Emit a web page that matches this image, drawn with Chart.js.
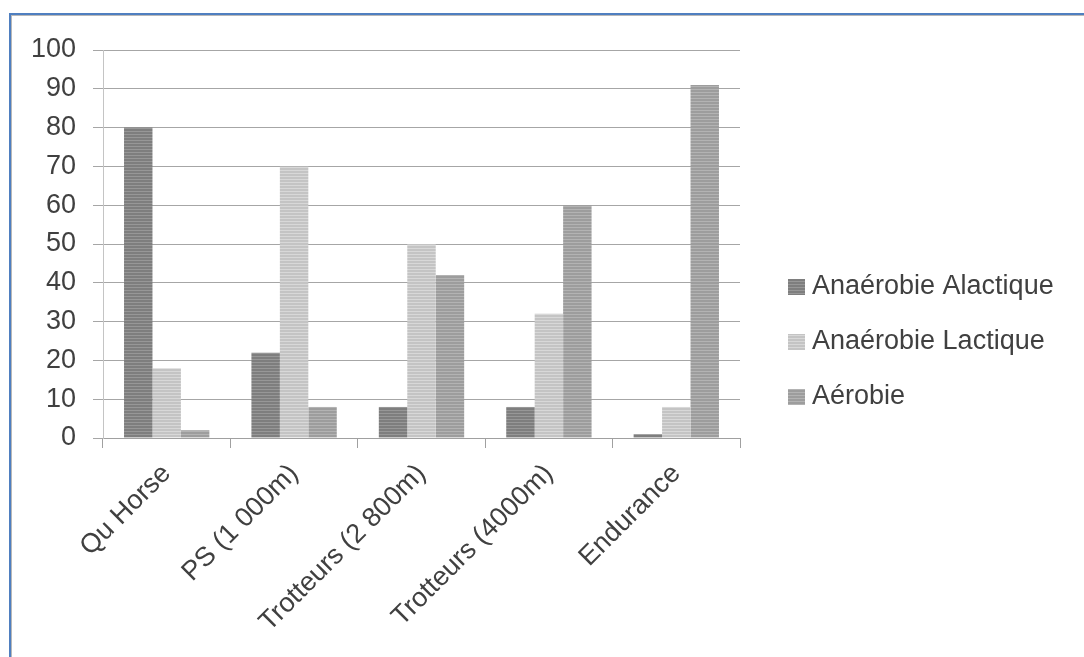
<!DOCTYPE html>
<html>
<head>
<meta charset="utf-8">
<script src="https://cdn.jsdelivr.net/npm/chart.js@4"></script>
<style>
  html, body { margin: 0; padding: 0; background: #fff; overflow: hidden; }
  #wrap { position: absolute; left: 0; top: 0; width: 1084px; height: 657px; }
  .frame {
    position: absolute; left: 9px; top: 13px; width: 1200px; height: 800px;
    border-top: 2px solid #4f7fc0; border-left: 2px solid #4f7fc0;
    box-shadow: inset 1px 1px 0 #b8b8b8; pointer-events: none;
  }
</style>
</head>
<body>
<div id="wrap"><canvas id="energyChart" width="1084" height="657"></canvas></div>
<div class="frame"></div>
<script>
const categories = ['Qu Horse', 'PS (1 000m)', 'Trotteurs (2 800m)', 'Trotteurs (4000m)', 'Endurance'];
const seriesNames = ['Anaérobie Alactique', 'Anaérobie Lactique', 'Aérobie'];
const alactique = [80, 22, 8, 8, 1];
const lactique = [18, 70, 50, 32, 8];
const aerobie = [2, 8, 42, 60, 91];
const yTicks = [0, 10, 20, 30, 40, 50, 60, 70, 80, 90, 100];

const FONT = '"Liberation Sans", Arial, sans-serif';
const TEXT = '#404040';

// striped fills, like the old office gradient bars
function stripes(base, line) {
  const c = document.createElement('canvas');
  c.width = 1; c.height = 3;
  const g = c.getContext('2d');
  g.fillStyle = base; g.fillRect(0, 0, 1, 3);
  g.fillStyle = line; g.fillRect(0, 2, 1, 1);
  return g.createPattern(c, 'repeat');
}
const fills = [
  stripes('#7e7e7e', '#979797'),
  stripes('#c4c4c4', '#d8d8d8'),
  stripes('#9d9d9d', '#b3b3b3')
];

// legend on the right, vertically centred on the whole plot block
const sideLegend = {
  id: 'sideLegend',
  afterDraw(chart) {
    const ctx = chart.ctx;
    ctx.save();
    ctx.font = '27px ' + FONT;
    ctx.textBaseline = 'middle';
    ctx.textAlign = 'left';
    chart.data.datasets.forEach((ds, i) => {
      const cy = 287 + i * 55;
      ctx.fillStyle = ds.backgroundColor;
      ctx.fillRect(788, cy - 8, 17, 16);
      ctx.fillStyle = TEXT;
      ctx.fillText(ds.label, 812, cy);
    });
    ctx.restore();
  }
};

new Chart(document.getElementById('energyChart'), {
  type: 'bar',
  data: {
    labels: categories,
    datasets: [
      { label: seriesNames[0], data: alactique, backgroundColor: fills[0] },
      { label: seriesNames[1], data: lactique, backgroundColor: fills[1] },
      { label: seriesNames[2], data: aerobie, backgroundColor: fills[2] }
    ]
  },
  options: {
    responsive: false,
    animation: false,
    layout: { padding: { top: 50, left: 0, right: 344, bottom: 0 } },
    datasets: { bar: { categoryPercentage: 0.67, barPercentage: 1, borderWidth: 0 } },
    plugins: {
      legend: { display: false },
      tooltip: { enabled: false }
    },
    scales: {
      x: {
        afterFit: (s) => { s.height = 219; },
        grid: { drawOnChartArea: false, color: '#a0a0a0', tickLength: 10, offset: true },
        border: { color: '#a0a0a0' },
        ticks: {
          color: TEXT, font: { family: FONT, size: 27 },
          minRotation: 45, maxRotation: 45, padding: 10, autoSkip: false
        }
      },
      y: {
        min: 0, max: 100,
        afterFit: (s) => { s.width = 103; },
        afterBuildTicks: (s) => { s.ticks = yTicks.map(v => ({ value: v })); },
        grid: { color: '#a6a6a6', tickLength: 10 },
        border: { color: '#c4c4c4' },
        ticks: { color: TEXT, font: { family: FONT, size: 27 }, padding: 17 }
      }
    }
  },
  plugins: [sideLegend]
});
</script>
</body>
</html>
